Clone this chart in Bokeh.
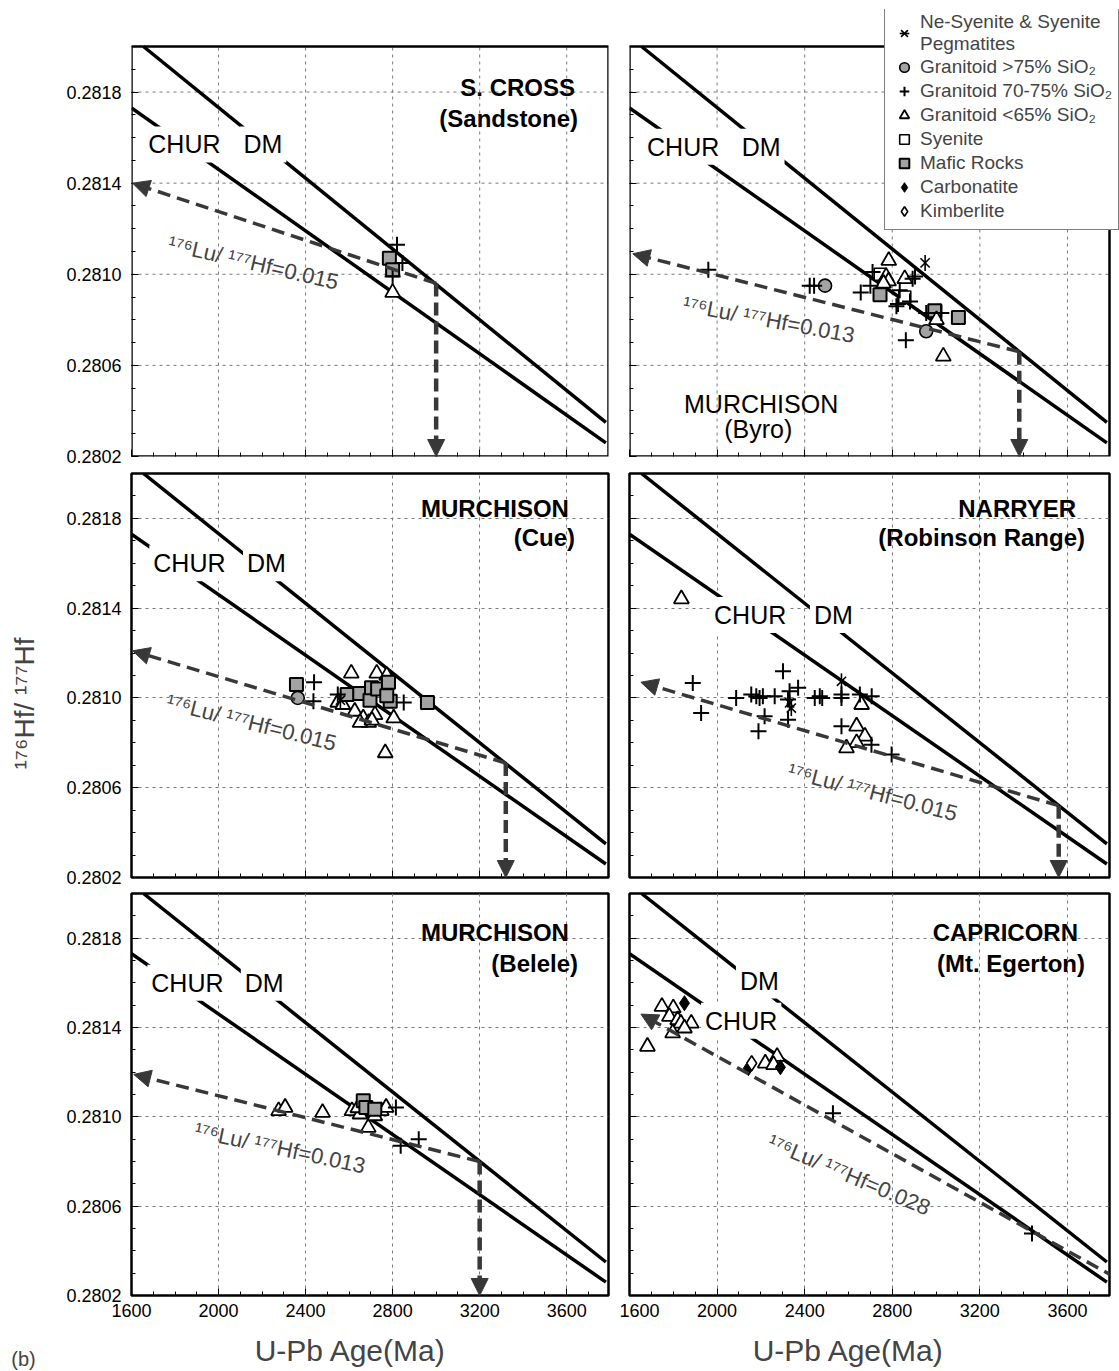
import math
from bokeh.plotting import figure
from bokeh.layouts import row, column
from bokeh.models import (FixedTicker, PrintfTickFormatter, Label, Arrow, NormalHead,
                          Legend, LegendItem, Range1d)
from bokeh.embed import file_html
from bokeh.resources import INLINE

# ---------------- data ----------------
AGE_TICKS = [1600, 2000, 2400, 2800, 3200, 3600]
HF_TICKS = [0.2802, 0.2806, 0.2810, 0.2814, 0.2818]
AGE_GRID = [2000, 2400, 2800, 3200, 3600]
HF_GRID = [0.2806, 0.2810, 0.2814, 0.2818]

CHUR_AGE = [1600, 3780]
CHUR_HF = [0.28173, 0.28026]
DM_AGE = [1655, 3780]
DM_HF = [0.28200, 0.28035]

PANEL_TITLES = ["S. CROSS", "", "MURCHISON", "NARRYER", "MURCHISON", "CAPRICORN"]
PANEL_SUBTITLES = ["(Sandstone)", "", "(Cue)", "(Robinson Range)", "(Belele)", "(Mt. Egerton)"]
LUHF_RATIOS = ["0.015", "0.013", "0.015", "0.015", "0.013", "0.028"]

EVOL_TIP_AGE = [1605, 1615, 1605, 1652, 1610, 1652]
EVOL_TIP_HF = [0.28140, 0.28109, 0.28121, 0.28107, 0.28119, 0.28146]
EVOL_MODEL_AGE = [3000, 3380, 3320, 3560, 3200, 3820]
EVOL_MODEL_HF = [0.28096, 0.28066, 0.28071, 0.28052, 0.28080, 0.28028]
EVOL_DROP = [True, True, True, True, True, False]

# Panel 1: S. CROSS (Sandstone)
SC_MAFIC_AGE = [2785, 2800]
SC_MAFIC_HF = [0.28107, 0.28102]
SC_G7075_AGE = [2820, 2845, 2800]
SC_G7075_HF = [0.28113, 0.28105, 0.28099]
SC_G65_AGE = [2800]
SC_G65_HF = [0.28092]

# Panel 2: MURCHISON (Byro)
BY_NESY_AGE = [2950]
BY_NESY_HF = [0.28105]
BY_G75_AGE = [2493, 2955]
BY_G75_HF = [0.28095, 0.28075]
BY_G7075_AGE = [1960, 2423, 2443, 2656, 2710, 2700, 2819, 2826, 2834, 2862, 2881, 2893, 2904, 2955, 3024]
BY_G7075_HF = [0.28102, 0.28095, 0.28095, 0.28092, 0.28101, 0.28095, 0.28086, 0.28087, 0.28093,
               0.28071, 0.28088, 0.28098, 0.28099, 0.28083, 0.28083]
BY_G65_AGE = [2784, 2772, 2783, 2760, 2857, 3002, 3033]
BY_G65_HF = [0.28106, 0.28099, 0.28097, 0.28096, 0.28098, 0.28080, 0.28064]
BY_SYEN_AGE = [2745, 2857]
BY_SYEN_HF = [0.28100, 0.28090]
BY_MAFIC_AGE = [2744, 2994, 3102]
BY_MAFIC_HF = [0.28091, 0.28084, 0.28081]
NO_AGE = [float("nan")]
NO_HF = [float("nan")]

# Panel 3: MURCHISON (Cue)
CU_MAFIC_AGE = [2358, 2591, 2649, 2696, 2703, 2731, 2781, 2789, 2773, 2960]
CU_MAFIC_HF = [0.28106, 0.281015, 0.28102, 0.28099, 0.281045, 0.28104, 0.28107, 0.280985, 0.28101, 0.28098]
CU_G75_AGE = [2364]
CU_G75_HF = [0.28100]
CU_G7075_AGE = [2439, 2436, 2548, 2851]
CU_G7075_HF = [0.28107, 0.280985, 0.281015, 0.28098]
CU_G65_AGE = [2610, 2727, 2773, 2548, 2571, 2626, 2719, 2805, 2766, 2665, 2690, 2650, 2705]
CU_G65_HF = [0.28111, 0.28111, 0.28110, 0.28098, 0.28097, 0.28094, 0.280925, 0.28091, 0.280755,
             0.28091, 0.28089, 0.28089, 0.28090]
CU_NESY_AGE = [2560]
CU_NESY_HF = [0.28099]

# Panel 4: NARRYER (Robinson Range)
RR_G7075_AGE = [1889, 1927, 2087, 2156, 2179, 2194, 2209, 2263, 2301, 2331, 2370, 2217, 2189,
                2324, 2324, 2446, 2469, 2568, 2568, 2652, 2706, 2568, 2797, 2705, 2480]
RR_G7075_HF = [0.281067, 0.280933, 0.28100, 0.281015, 0.281007, 0.28100, 0.281007, 0.281007,
               0.281119, 0.28103, 0.281045, 0.280918, 0.280852, 0.280903, 0.280993, 0.28100,
               0.281007, 0.281015, 0.28100, 0.281015, 0.281007, 0.280874, 0.280748, 0.280792, 0.28100]
RR_G65_AGE = [1837, 2660, 2637, 2675, 2637, 2591]
RR_G65_HF = [0.281441, 0.28097, 0.280874, 0.280829, 0.28080, 0.280777]
RR_NESY_AGE = [2331, 2339, 2568]
RR_NESY_HF = [0.280978, 0.280955, 0.281074]

# Panel 5: MURCHISON (Belele)
BE_G65_AGE = [2276, 2306, 2478, 2613, 2650, 2688, 2718, 2748, 2770, 2640]
BE_G65_HF = [0.281027, 0.281042, 0.281019, 0.281027, 0.281012, 0.280952, 0.281004, 0.281027, 0.281042, 0.28104]
BE_MAFIC_AGE = [2665, 2677, 2718]
BE_MAFIC_HF = [0.281072, 0.281042, 0.281034]
BE_G7075_AGE = [2815, 2837, 2920]
BE_G7075_HF = [0.281042, 0.28087, 0.28090]

# Panel 6: CAPRICORN (Mt. Egerton)
ME_G65_AGE = [1748, 1800, 1782, 1820, 1835, 1882, 1851, 1797, 1682, 2220, 2274, 2258]
ME_G65_HF = [0.281494, 0.281487, 0.281449, 0.281434, 0.281419, 0.281419, 0.281397, 0.281375,
             0.281315, 0.28124, 0.28127, 0.281233]
ME_CARB_AGE = [1851, 2143, 2289]
ME_CARB_HF = [0.281509, 0.281218, 0.281222]
ME_KIMB_AGE = [2158]
ME_KIMB_HF = [0.28124]
ME_G7075_AGE = [2529, 3438]
ME_G7075_HF = [0.281016, 0.280478]

LEGEND_LABELS = ["Ne-Syenite & Syenite\nPegmatites", "Granitoid >75% SiO\u2082",
                 "Granitoid 70-75% SiO\u2082", "Granitoid <65% SiO\u2082", "Syenite",
                 "Mafic Rocks", "Carbonatite", "Kimberlite"]
LEGEND_KINDS = ["nesy", "g75", "g7075", "g65", "syen", "mafic", "carb", "kimb"]

# ---------------- styling ----------------
FONT = "Liberation Sans"
GRAY = "#a3a3a3"
DARK = "#383838"

X0, X1 = 1600, 3792
Y0, Y1 = 0.2802, 0.2820
FRAME_W = [477, 480]
FRAME_H = [410, 404, 402]
BORDER_TOP = [46, 5, 4]
BORDER_BOTTOM = [12, 12, 30]
EXT_TOP = [37, 0, 0]          # top row frames reach up to the legend's top edge


def hide_labels(ax):
    ax.major_label_text_font_size = "0px"
    ax.major_label_text_color = None
    ax.major_label_standoff = 0


def make_fig(r, c, ext_right=0):
    fw, fh = FRAME_W[c], FRAME_H[r]
    ext_top = EXT_TOP[r]
    extended = ext_top > 0 or ext_right > 0
    top = BORDER_TOP[r] - ext_top
    right = (11 if c == 0 else 10) - ext_right
    xr = Range1d(X0, X1 + ext_right * (X1 - X0) / fw)
    yr = Range1d(Y0, Y1 + ext_top * (Y1 - Y0) / fh)
    p = figure(frame_width=fw + ext_right, frame_height=fh + ext_top, x_range=xr, y_range=yr,
               output_backend="svg", toolbar_location=None,
               min_border_left=81 if c == 0 else 10, min_border_right=right,
               min_border_top=top, min_border_bottom=BORDER_BOTTOM[r])
    p.outline_line_color = None if extended else "black"
    p.outline_line_width = 2.5
    p.background_fill_color = "white"
    p.border_fill_color = "white"
    p.xaxis.ticker = FixedTicker(ticks=AGE_TICKS, minor_ticks=list(range(1700, 3800, 100)))
    p.yaxis.ticker = FixedTicker(ticks=HF_TICKS,
                                 minor_ticks=[round(0.2802 + i * 0.0001, 4) for i in range(19)])
    p.yaxis.formatter = PrintfTickFormatter(format="%.4f")
    for ax in (p.xaxis[0], p.yaxis[0]):
        ax.axis_line_color = None
        ax.major_tick_in = 7
        ax.major_tick_out = 0
        ax.minor_tick_in = 4
        ax.minor_tick_out = 0
        ax.major_tick_line_color = "black"
        ax.minor_tick_line_color = "black"
        ax.major_label_text_font = FONT
        ax.major_label_text_font_size = "18px"
        ax.major_label_text_color = "black"
    p.yaxis.major_label_standoff = 10
    p.xaxis.major_label_standoff = 8
    if c == 1:
        hide_labels(p.yaxis[0])
    if r < 2:
        hide_labels(p.xaxis[0])
    if extended:
        p.xgrid.visible = False
        p.ygrid.visible = False
        p.segment(x0=AGE_GRID, y0=[Y0] * len(AGE_GRID), x1=AGE_GRID, y1=[Y1] * len(AGE_GRID),
                  line_color="#7a7a7a", line_dash="3 4", line_width=1)
        p.segment(x0=[X0] * len(HF_GRID), y0=HF_GRID, x1=[X1] * len(HF_GRID), y1=HF_GRID,
                  line_color="#7a7a7a", line_dash="3 4", line_width=1)
        p.quad(left=[X0], right=[X1], bottom=[Y0], top=[Y1], fill_color=None,
               line_color="black", line_width=2.5)
    else:
        p.xgrid.ticker = FixedTicker(ticks=AGE_GRID)
        p.ygrid.ticker = FixedTicker(ticks=HF_GRID)
        for g in (p.xgrid[0], p.ygrid[0]):
            g.grid_line_color = "#7a7a7a"
            g.grid_line_dash = "3 4"
            g.grid_line_width = 1
    return p


def add_points(p, kind, xs, ys):
    rs = []
    if kind == "nesy":
        rs.append(p.scatter(xs, ys, marker="x", size=13, line_color="black", line_width=1.6))
        rs.append(p.scatter(xs, ys, marker="dash", angle=math.pi / 2, size=16,
                            line_color="black", line_width=1.6))
    elif kind == "g75":
        rs.append(p.scatter(xs, ys, marker="circle", size=13, fill_color=GRAY,
                            line_color="black", line_width=1.6))
    elif kind == "g7075":
        rs.append(p.scatter(xs, ys, marker="cross", size=16, line_color="black", line_width=2))
    elif kind == "g65":
        rs.append(p.scatter(xs, ys, marker="triangle", size=15, fill_color="white",
                            line_color="black", line_width=1.8))
    elif kind == "syen":
        rs.append(p.scatter(xs, ys, marker="square", size=12, fill_color="white",
                            line_color="black", line_width=1.6))
    elif kind == "mafic":
        rs.append(p.scatter(xs, ys, marker="square", size=13, fill_color=GRAY,
                            line_color="black", line_width=2))
    elif kind == "carb":
        rs.append(p.scatter(xs, ys, marker="diamond", size=15, fill_color="black",
                            line_color="black", line_width=1))
    elif kind == "kimb":
        rs.append(p.scatter(xs, ys, marker="diamond", size=15, fill_color="white",
                            line_color="black", line_width=1.6))
    return rs


def lbl(p, x, y, text, size, bold=False, align="center", angle=0, color="black", bg=False):
    kw = dict(x=x, y=y, text=text, text_font=FONT, text_font_size=size,
              text_font_style="bold" if bold else "normal", text_align=align,
              text_baseline="middle", angle=angle, angle_units="deg", text_color=color)
    if bg:
        kw.update(background_fill_color="white", background_fill_alpha=1.0, padding=4)
    p.add_layout(Label(**kw))


PANEL_POINTS = [
    [("mafic", SC_MAFIC_AGE, SC_MAFIC_HF), ("g65", SC_G65_AGE, SC_G65_HF),
     ("g7075", SC_G7075_AGE, SC_G7075_HF)],
    [("mafic", BY_MAFIC_AGE, BY_MAFIC_HF), ("syen", BY_SYEN_AGE, BY_SYEN_HF),
     ("g65", BY_G65_AGE, BY_G65_HF), ("g75", BY_G75_AGE, BY_G75_HF),
     ("g7075", BY_G7075_AGE, BY_G7075_HF), ("nesy", BY_NESY_AGE, BY_NESY_HF),
     ("carb", NO_AGE, NO_HF), ("kimb", NO_AGE, NO_HF)],
    [("g65", CU_G65_AGE, CU_G65_HF), ("mafic", CU_MAFIC_AGE, CU_MAFIC_HF),
     ("g75", CU_G75_AGE, CU_G75_HF), ("g7075", CU_G7075_AGE, CU_G7075_HF),
     ("nesy", CU_NESY_AGE, CU_NESY_HF)],
    [("g65", RR_G65_AGE, RR_G65_HF), ("g7075", RR_G7075_AGE, RR_G7075_HF),
     ("nesy", RR_NESY_AGE, RR_NESY_HF)],
    [("g65", BE_G65_AGE, BE_G65_HF), ("mafic", BE_MAFIC_AGE, BE_MAFIC_HF),
     ("g7075", BE_G7075_AGE, BE_G7075_HF)],
    [("g65", ME_G65_AGE, ME_G65_HF), ("carb", ME_CARB_AGE, ME_CARB_HF),
     ("kimb", ME_KIMB_AGE, ME_KIMB_HF), ("g7075", ME_G7075_AGE, ME_G7075_HF)],
]

CHUR_POS = [(1843, 0.28157), (1845, 0.28156), (1866, 0.28160), (2151, 0.28137), (1857, 0.28160), (2110, 0.28143)]
DM_POS = [(2204, 0.28157), (2201, 0.28156), (2220, 0.28160), (2531, 0.28137), (2210, 0.28160), (2193, 0.28161)]
LUHF_POS = [(2160, 0.28105, -13), (2236, 0.28080, -10.5), (2151, 0.28089, -14),
            (2710, 0.28058, -14.5), (2282, 0.28086, -12), (2603, 0.28074, -23)]
TITLE_POS = [(3638, 0.28182), None, (3610, 0.281845), (3639, 0.281844), (3610, 0.281825), (3648, 0.281825)]
SUB_POS = [(3652, 0.281686), None, (3638, 0.281714), (3680, 0.281717), (3652, 0.281688), (3680, 0.281688)]

figs = []
for i in range(6):
    r, c = divmod(i, 2)
    p = make_fig(r, c, ext_right=10 if i == 1 else 0)
    p.line(CHUR_AGE, CHUR_HF, line_color="black", line_width=3.5)
    p.line(DM_AGE, DM_HF, line_color="black", line_width=3.5)

    p.add_layout(Arrow(end=NormalHead(size=17, fill_color=DARK, line_color=DARK),
                       x_start=EVOL_MODEL_AGE[i], y_start=EVOL_MODEL_HF[i],
                       x_end=EVOL_TIP_AGE[i], y_end=EVOL_TIP_HF[i],
                       line_color=DARK, line_width=3.5, line_dash="13 7"))
    if EVOL_DROP[i]:
        p.add_layout(Arrow(end=NormalHead(size=17, fill_color=DARK, line_color=DARK),
                           x_start=EVOL_MODEL_AGE[i], y_start=EVOL_MODEL_HF[i],
                           x_end=EVOL_MODEL_AGE[i], y_end=Y0,
                           line_color=DARK, line_width=4.5, line_dash="13 6"))

    renderers = {}
    for kind, xs, ys in PANEL_POINTS[i]:
        renderers[kind] = add_points(p, kind, xs, ys)

    lbl(p, CHUR_POS[i][0], CHUR_POS[i][1], "CHUR", "25px", bg=True)
    lbl(p, DM_POS[i][0], DM_POS[i][1], "DM", "25px", bg=True)
    lx, ly, la = LUHF_POS[i]
    lbl(p, lx, ly, "\u00b9\u2077\u2076Lu/ \u00b9\u2077\u2077Hf=" + LUHF_RATIOS[i], "22px",
        angle=la, color="#444444")
    if TITLE_POS[i]:
        lbl(p, TITLE_POS[i][0], TITLE_POS[i][1], PANEL_TITLES[i], "24px", bold=True, align="right")
        lbl(p, SUB_POS[i][0], SUB_POS[i][1], PANEL_SUBTITLES[i], "24px", bold=True, align="right")

    if i == 1:
        lbl(p, 2201, 0.280431, "MURCHISON", "25px")
        lbl(p, 2188, 0.28032, "(Byro)", "25px")
        items = [LegendItem(label=LEGEND_LABELS[k], renderers=renderers[kind])
                 for k, kind in enumerate(LEGEND_KINDS)]
        leg = Legend(items=items, location=(255, 226), label_text_font=FONT,
                     label_text_font_size="19px", glyph_width=26, glyph_height=24,
                     label_height=20, spacing=0, padding=6, margin=0, label_standoff=3,
                     border_line_color="black", border_line_width=1.5,
                     background_fill_color="white", background_fill_alpha=1.0)
        p.add_layout(leg)
    figs.append(p)


def blank(w, h, x0, x1):
    f = figure(width=w, height=h, x_range=Range1d(x0, x1), y_range=Range1d(0, h),
               output_backend="svg", toolbar_location=None, min_border=0)
    f.axis.visible = False
    f.grid.visible = False
    f.outline_line_color = None
    f.background_fill_color = "white"
    f.border_fill_color = "white"
    return f


# left strip: y-axis title and panel letter
side = blank(50, 1371, 0, 50)
side.add_layout(Label(x=24, y=668, text="\u00b9\u2077\u2076Hf/ \u00b9\u2077\u2077Hf", angle=90,
                      angle_units="deg", text_font=FONT, text_font_size="28px",
                      text_align="center", text_baseline="middle"))
side.add_layout(Label(x=23, y=13, text="(b)", text_font=FONT, text_font_size="20px",
                      text_align="center", text_baseline="middle"))

# bottom strip: x-axis titles
foot = blank(1069, 46, 50, 1119)
for cx in (350, 848):
    foot.add_layout(Label(x=cx, y=21, text="U-Pb Age(Ma)", text_font=FONT, text_font_size="30px",
                          text_align="center", text_baseline="middle"))

panels = column(row(figs[0], figs[1]), row(figs[2], figs[3]), row(figs[4], figs[5]), foot)
layout = row(side, panels)
open("out.html", "w").write(file_html(layout, INLINE))
